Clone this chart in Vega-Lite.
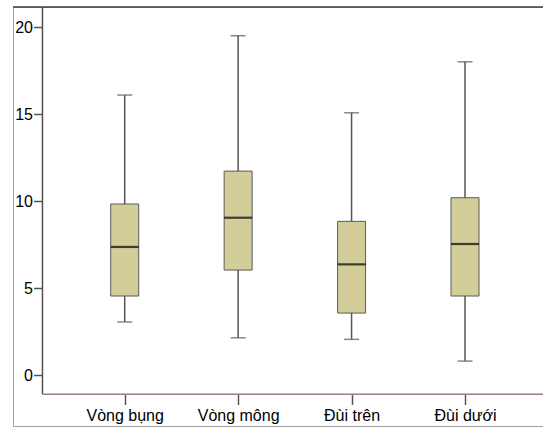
{
  "$schema": "https://vega.github.io/schema/vega-lite/v6.json",
  "width": 533,
  "height": 419,
  "autosize": {"type": "none"},
  "padding": {"left": 13, "top": 7, "right": 0, "bottom": 2},
  "background": "white",
  "config": {
    "view": {"stroke": "#a0a0a0", "strokeWidth": 1},
    "font": "Liberation Sans",
    "axis": {"grid": false, "labelColor": "#000", "labelFont": "Liberation Sans"}
  },
  "resolve": {"scale": {"x": "independent"}},
  "layer": [
    {
      "data": {"values": [
        {"line": "yaxis", "x": 0.0553, "x2": 0.0553, "y": -1.11, "y2": 21.15},
        {"line": "xaxis", "x": 0.0553, "x2": 1, "y": -1.11, "y2": -1.11},
        {"line": "top", "x": 0, "x2": 1, "y": 21.15, "y2": 21.15}
      ]},
      "mark": {"type": "rule", "strokeWidth": 1.5},
      "encoding": {
        "x": {"field": "x", "type": "quantitative", "scale": {"domain": [0, 1], "nice": false, "zero": false}, "axis": null},
        "x2": {"field": "x2"},
        "y": {"field": "y", "type": "quantitative",
          "scale": {"domain": [-2.93, 21.15], "nice": false, "zero": false},
          "axis": {"title": null, "values": [0, 5, 10, 15, 20], "offset": -29.5, "domain": false, "tickSize": 9, "tickColor": "#555", "tickWidth": 1.5, "labelFontSize": 16, "labelPadding": 1}},
        "y2": {"field": "y2"},
        "color": {"field": "line", "type": "nominal", "legend": null,
          "scale": {"domain": ["yaxis", "xaxis", "top"], "range": ["#505050", "#9c7e7e", "#404040"]}}
      }
    },
    {
      "data": {"values": [
        {"part": "Vòng bụng", "min": 3.05, "q1": 4.54, "median": 7.36, "q3": 9.83, "max": 16.09},
        {"part": "Vòng mông", "min": 2.14, "q1": 6.03, "median": 9.04, "q3": 11.72, "max": 19.5},
        {"part": "Đùi trên", "min": 2.05, "q1": 3.56, "median": 6.36, "q3": 8.83, "max": 15.07},
        {"part": "Đùi dưới", "min": 0.8, "q1": 4.54, "median": 7.53, "q3": 10.19, "max": 18.0}
      ]},
      "encoding": {
        "x": {"field": "part", "type": "nominal",
          "scale": {"type": "point", "domain": ["Vòng bụng", "Vòng mông", "Đùi trên", "Đùi dưới"], "range": [111.7, 452], "padding": 0},
          "axis": {"title": null, "orient": "bottom", "offset": -31.5, "domain": false, "tickSize": 10, "tickColor": "#555", "tickWidth": 1.5, "labelAngle": 0, "labelFontSize": 16, "labelPadding": 3}}
      },
      "layer": [
        {
          "mark": {"type": "rule", "color": "#555", "strokeWidth": 1.5},
          "encoding": {
            "y": {"field": "min", "type": "quantitative"},
            "y2": {"field": "max"}
          }
        },
        {
          "mark": {"type": "tick", "orient": "horizontal", "color": "#555", "size": 15, "thickness": 1.5},
          "encoding": {"y": {"field": "min", "type": "quantitative"}}
        },
        {
          "mark": {"type": "tick", "orient": "horizontal", "color": "#555", "size": 15, "thickness": 1.5},
          "encoding": {"y": {"field": "max", "type": "quantitative"}}
        },
        {
          "mark": {"type": "bar", "size": 28, "fill": "#d2cd99", "stroke": "#5a5a5a", "strokeWidth": 1},
          "encoding": {"y": {"field": "q1", "type": "quantitative"}, "y2": {"field": "q3"}}
        },
        {
          "mark": {"type": "tick", "orient": "horizontal", "color": "#000", "size": 28, "thickness": 2.2},
          "encoding": {"y": {"field": "median", "type": "quantitative"}}
        }
      ]
    }
  ]
}
